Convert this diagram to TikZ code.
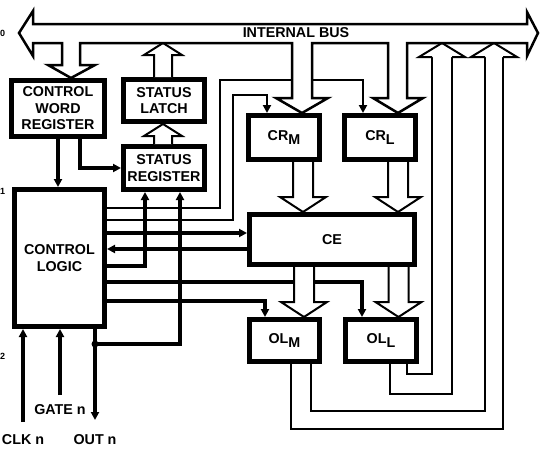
\documentclass[tikz,border=0pt]{standalone}
\usepackage{fontspec}
\setmainfont{Liberation Sans}
\usetikzlibrary{arrows.meta, positioning, calc}

% wide hollow bus arrow: x, start y, head base y, tip y, half shaft, half head
\newcommand{\fatarrow}[6]{%
  \draw[fat] (#1-#5,#2) -- (#1-#5,#3) -- (#1-#6,#3) -- (#1,#4)
             -- (#1+#6,#3) -- (#1+#5,#3) -- (#1+#5,#2);}

\begin{document}
\begin{tikzpicture}[x=1pt, y=-1pt,
    font=\bfseries\fontsize{14.3}{16.5}\selectfont,
    block/.style={draw, line width=5pt, fill=white, align=center, inner sep=0pt},
    sig/.style={line width=3.5pt},
    thinsig/.style={line width=2pt},
    fat/.style={line width=2pt, fill=white, line join=miter},
    tip/.style={-{Triangle[length=8pt,width=8pt]}}]

    \useasboundingbox (0,0) rectangle (542,455);

    % Register blocks
    \node[block, minimum width=93pt, minimum height=56pt] (cwr) at (58,108.5) {CONTROL\\WORD\\REGISTER};
    \node[block, minimum width=81pt, minimum height=42pt] (latch) at (164,100.5) {STATUS\\LATCH};
    \node[block, minimum width=81pt, minimum height=43pt] (sreg) at (164,168) {STATUS\\REGISTER};
    \node[block, minimum width=90pt, minimum height=137pt] (ctrl) at (59.5,258) {CONTROL\\LOGIC};
    \node[block, minimum width=71pt, minimum height=44pt] (crm) at (284,137.5) {CR\raisebox{-4pt}{M}};
    \node[block, minimum width=71pt, minimum height=44pt] (crl) at (380,137.5) {CR\raisebox{-4pt}{L}};
    \node[block, minimum width=165pt, minimum height=50pt] (ce) at (332,239.5) {CE};
    \node[block, minimum width=70pt, minimum height=42pt] (olm) at (284.5,340.5) {OL\raisebox{-4pt}{M}};
    \node[block, minimum width=71pt, minimum height=42pt] (oll) at (381,340.5) {OL\raisebox{-4pt}{L}};

    % Pin ends below the control logic
    \coordinate (clk) at (23,422);
    \coordinate (gate) at (60,395);
    \coordinate (out) at (95,420);
    \coordinate (tap) at (95,344);

    % Control word register feeds logic and status register
    \draw[sig, tip] (cwr.south) -- (cwr.south |- ctrl.north);
    \draw[sig, tip] ([xshift=22pt]cwr.south) |- (sreg.west);

    % Load lines to the count registers
    \draw[thinsig, tip] (ctrl.east |- 0,208) -| (220,80) -| ([xshift=-17pt]crl.north);
    \draw[thinsig, tip] (ctrl.east |- 0,220) -| (233,95) -| ([xshift=-17pt]crm.north);

    % Control logic to and from the counting element
    \draw[sig, tip] (ctrl.east |- 0,233) -- (ce.west |- 0,233);
    \draw[sig, tip] (ce.west |- 0,249) -- (ctrl.east |- 0,249);

    % Status register inputs
    \draw[sig, tip] (ctrl.east |- 0,266) -| ([xshift=-19pt]sreg.south);
    \draw[sig, tip] (tap) -| ([xshift=16pt]sreg.south);

    % Latch lines to the output latches
    \draw[sig, tip] (ctrl.east |- 0,282) -| ([xshift=-19pt]oll.north);
    \draw[sig, tip] (ctrl.east |- 0,301) -| ([xshift=-19.5pt]olm.north);

    % Counter pins
    \draw[sig, tip] (clk) -- (clk |- ctrl.south);
    \draw[sig, tip] (gate) -- (gate |- ctrl.south);
    \draw[sig, tip] (out |- ctrl.south) -- (out);
    \fill (tap) circle (3.5pt);

    % Output latches back to the bus
    \draw[thinsig] ([xshift=9pt]oll.south) |- (452,394) -- (452,57);
    \draw[thinsig] ([xshift=26pt]oll.south) |- (432,374) -- (432,57);
    \draw[thinsig] ([xshift=6.5pt]olm.south) |- (503,429) -- (503,57);
    \draw[thinsig] ([xshift=26.5pt]olm.south) |- (485,411) -- (485,57);
    \draw[fat] (432,57) -- (419,57) -- (442,43) -- (465,57) -- (452,57);
    \draw[fat] (485,57) -- (471,57) -- (494,43) -- (517,57) -- (503,57);

    % Wide data paths
    \fatarrow{163}{77}{55}{43}{9}{19}
    \fatarrow{163}{144}{136}{124}{9}{19}
    \fatarrow{303}{162}{197}{212}{10}{23}
    \fatarrow{398}{162}{197}{212}{10}{23}
    \fatarrow{304}{267}{302}{317}{10}{23}
    \fatarrow{398.5}{267}{302}{317}{10}{23}

    % Internal bus with its branches to the registers
    \draw[line width=2.5pt, fill=white, line join=miter]
        (19,33) -- (33,11) -- (33,24) -- (527,24) -- (527,12) -- (538,33)
        -- (527,56) -- (527,43) -- (407,43) -- (407,98) -- (423,98) -- (398,113)
        -- (373,98) -- (388,98) -- (388,43) -- (312,43) -- (312,98) -- (328,98)
        -- (302,113) -- (276,98) -- (292,98) -- (292,43) -- (80,43) -- (80,65)
        -- (95,65) -- (71,78) -- (48,65) -- (62,65) -- (62,43) -- (33,43)
        -- (33,56) -- cycle;
    \node (bus) at (296,33) {INTERNAL BUS};

    % Pin names
    \node (clklbl) at (23,440) {CLK n};
    \node (gatelbl) at (60,410) {GATE n};
    \node (outlbl) at (95,440) {OUT n};

    % Names at the left edge
    \node[anchor=west, inner sep=0pt, font=\bfseries\fontsize{9}{9}\selectfont] (d0) at (0,33) {0};
    \node[anchor=west, inner sep=0pt, font=\bfseries\fontsize{9}{9}\selectfont] (d1) at (0,191) {1};
    \node[anchor=west, inner sep=0pt, font=\bfseries\fontsize{9}{9}\selectfont] (d2) at (0,356) {2};

\end{tikzpicture}
\end{document}
